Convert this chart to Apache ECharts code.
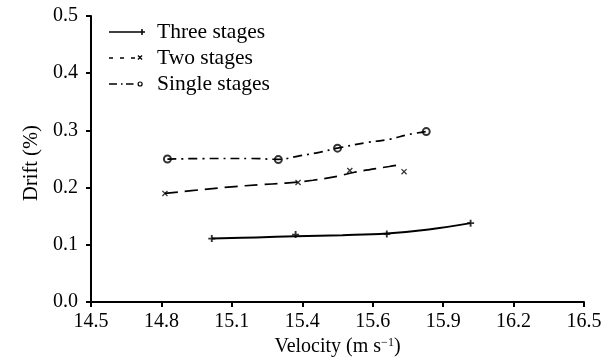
<!DOCTYPE html>
<html>
<head>
<meta charset="utf-8">
<script src="https://cdn.jsdelivr.net/npm/echarts@6/dist/echarts.min.js"></script>
<style>
  html, body { margin: 0; padding: 0; background: #fff; }
  #chart { width: 616px; height: 364px; }
</style>
</head>
<body>
<div id="chart"></div>
<script>
// Measured drift for each staging configuration
const threeX = [14.99, 15.33, 15.70, 16.04];
const threeY = [0.111, 0.118, 0.119, 0.138];
const twoX = [14.80, 15.34, 15.55, 15.77];
const twoY = [0.190, 0.209, 0.230, 0.228];
const singleX = [14.81, 15.26, 15.50, 15.86];
const singleY = [0.250, 0.249, 0.269, 0.298];

// Fitted trend curves drawn through each set
const threeFitX = [14.99, 15.17, 15.33, 15.52, 15.70, 15.87, 16.04];
const threeFitY = [0.111, 0.113, 0.115, 0.117, 0.120, 0.127, 0.138];
const twoFitX = [14.80, 14.96, 15.07, 15.18, 15.29, 15.40, 15.50, 15.57, 15.71, 15.75];
const twoFitY = [0.190, 0.197, 0.2015, 0.205, 0.208, 0.213, 0.220, 0.227, 0.237, 0.240];
const singleFitX = [14.81, 15.01, 15.15, 15.26, 15.35, 15.43, 15.50, 15.62, 15.71, 15.79, 15.86];
const singleFitY = [0.250, 0.251, 0.251, 0.2495, 0.256, 0.262, 0.269, 0.279, 0.2845, 0.293, 0.298];

const seriesNames = ['Three stages', 'Two stages', 'Single stages'];

// Velocity axis: seven equal steps from 14.5 to 16.5
const xTicks = [14.5, 14.5 + 2 / 7, 14.5 + 4 / 7, 14.5 + 6 / 7, 14.5 + 8 / 7, 14.5 + 10 / 7, 14.5 + 12 / 7, 16.5];
const xTickLabels = ['14.5', '14.8', '15.1', '15.4', '15.6', '15.9', '16.2', '16.5'];

const pairs = (xs, ys) => xs.map((x, i) => [x, ys[i]]);

const FONT = 'Liberation Serif';
const plusPath = 'path://M0 2.2H6V3.8H0Z M2.2 0H3.8V6H2.2Z';
const crossPath = 'path://M0 0.9L0.9 0L6 5.1L5.1 6Z M5.1 0L6 0.9L0.9 6L0 5.1Z';

// Legend keys: line sample with the marker at its right end (43 x 10 box)
const anchors = 'M0 0L0.01 0L0.01 0.01Z M43 10L42.99 10L42.99 9.99Z ';
const iconThree = 'path://' + anchors + 'M0 4.15H31V5.85H0Z M30 4.25H36V5.75H30Z M32.25 2H33.75V8H32.25Z';
const iconTwo = 'path://' + anchors + 'M0 4.2H4V5.8H0Z M11 4.2H15V5.8H11Z M22 4.2H26V5.8H22Z ' +
  'M28.5 2.9L29.4 2L33.5 6.1L32.6 7Z M32.6 2L33.5 2.9L29.4 7L28.5 6.1Z';
const iconSingle = 'path://' + anchors + 'M0 4.2H8V5.8H0Z M12 4.2H13.6V5.8H12Z M17 4.2H24.5V5.8H17Z ' +
  'M33.7 5A2.6 2.6 0 1 0 28.5 5A2.6 2.6 0 1 0 33.7 5Z M32.5 5A1.4 1.4 0 1 1 29.7 5A1.4 1.4 0 1 1 32.5 5Z';

const chart = echarts.init(document.getElementById('chart'), null, { renderer: 'canvas' });

chart.setOption({
  animation: false,
  backgroundColor: '#fff',
  textStyle: { fontFamily: FONT, color: '#000' },
  grid: { left: 91, right: 32, top: 16, bottom: 54 },
  legend: {
    orient: 'vertical',
    left: 104,
    top: 14,
    itemWidth: 43,
    itemHeight: 10,
    itemGap: 0,
    selectedMode: false,
    itemStyle: { color: '#000', borderWidth: 0 },
    lineStyle: { width: 0 },
    textStyle: { fontFamily: FONT, fontSize: 21.5, color: '#000', lineHeight: 26 },
    data: [
      { name: seriesNames[0], icon: iconThree },
      { name: seriesNames[1], icon: iconTwo },
      { name: seriesNames[2], icon: iconSingle }
    ]
  },
  xAxis: {
    type: 'value',
    min: 14.5,
    max: 16.5,
    name: 'Velocity (m s{sup|−1})',
    nameLocation: 'middle',
    nameGap: 30,
    nameTextStyle: {
      fontFamily: FONT, fontSize: 20, color: '#000',
      rich: { sup: { fontFamily: FONT, fontSize: 12, verticalAlign: 'top', lineHeight: 12, padding: [0, 0, 10, 0] } }
    },
    axisLine: { lineStyle: { color: '#000', width: 2 } },
    axisTick: { length: 5, customValues: xTicks, lineStyle: { color: '#000', width: 2 } },
    axisLabel: {
      customValues: xTicks,
      margin: 10,
      fontFamily: FONT, fontSize: 20, color: '#000',
      formatter: (v) => {
        const i = xTicks.findIndex(t => Math.abs(t - v) < 1e-6);
        return i >= 0 ? xTickLabels[i] : '';
      }
    },
    splitLine: { show: false }
  },
  yAxis: {
    type: 'value',
    min: 0,
    max: 0.5,
    interval: 0.1,
    name: 'Drift (%)',
    nameLocation: 'middle',
    nameGap: 44,
    nameTextStyle: { fontFamily: FONT, fontSize: 20.5, color: '#000', padding: [0, 8, 0, 0] },
    axisLine: { show: true, lineStyle: { color: '#000', width: 2 } },
    axisTick: { show: true, length: 5, lineStyle: { color: '#000', width: 2 } },
    axisLabel: {
      margin: 13,
      fontFamily: FONT, fontSize: 20, color: '#000',
      formatter: (v) => v.toFixed(1)
    },
    splitLine: { show: false }
  },
  series: [
    {
      name: seriesNames[0], type: 'line', smooth: 0.4, showSymbol: false, silent: true,
      data: pairs(threeFitX, threeFitY), color: '#000',
      lineStyle: { color: '#000', width: 2, type: 'solid' }
    },
    {
      name: seriesNames[0], type: 'scatter', symbol: plusPath, symbolSize: 7,
      data: pairs(threeX, threeY), itemStyle: { color: '#000' }
    },
    {
      name: seriesNames[1], type: 'line', smooth: 0.4, showSymbol: false, silent: true,
      data: pairs(twoFitX, twoFitY), color: '#000',
      lineStyle: { color: '#000', width: 1.7, type: [13, 7] }
    },
    {
      name: seriesNames[1], type: 'scatter', symbol: crossPath, symbolSize: 6,
      data: pairs(twoX, twoY), itemStyle: { color: '#000' }
    },
    {
      name: seriesNames[2], type: 'line', smooth: 0.4, showSymbol: false, silent: true,
      data: pairs(singleFitX, singleFitY), color: '#000',
      lineStyle: { color: '#000', width: 1.7, type: [9, 5, 2, 5] }
    },
    {
      name: seriesNames[2], type: 'scatter', symbol: 'emptyCircle', symbolSize: 7,
      data: pairs(singleX, singleY),
      itemStyle: { color: '#000', borderColor: '#000', borderWidth: 1.8 }
    }
  ]
});
</script>
</body>
</html>
